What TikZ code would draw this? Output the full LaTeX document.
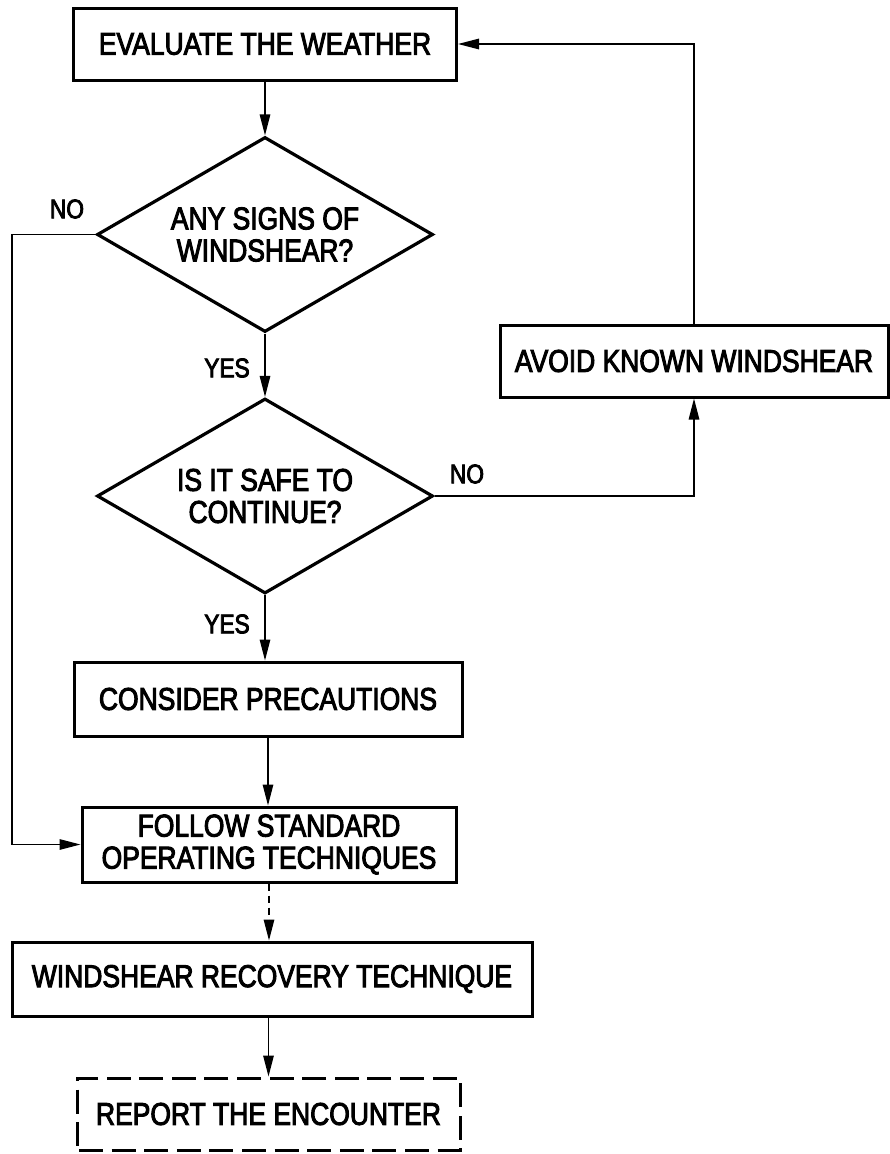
\documentclass[tikz,border=0pt]{standalone}
\usepackage{fontspec}
\setmainfont{Liberation Sans}[FakeStretch=0.84,FakeBold=3]
\usetikzlibrary{shapes.geometric,arrows.meta}
\tikzset{
  box/.style={draw, line width=3pt, inner sep=0pt, align=center,
    font=\fontsize{31.5}{32}\selectfont},
  decision/.style={diamond, draw, line width=3.2pt, inner sep=0pt, aspect=1.72,
    align=center, minimum width=336pt, minimum height=195pt,
    font=\fontsize{31.5}{32}\selectfont},
  conn/.style={line width=1.4pt, -{Triangle[length=21pt,width=10.5pt]}},
  dashconn/.style={conn, dash pattern=on 7pt off 5pt},
  lbl/.style={inner sep=0pt, font=\fontsize{27}{28}\selectfont}
}
\begin{document}
\begin{tikzpicture}[x=1pt,y=-1pt]
\useasboundingbox (0,0) rectangle (890,1154);
% nodes
\node[box, minimum width=383pt, minimum height=72pt] (eval) at (265,44) {EVALUATE THE WEATHER};
\node[decision] (d1) at (265,234.5) {ANY SIGNS OF\\WINDSHEAR?};
\node[decision] (d2) at (265,496) {IS IT SAFE TO\\CONTINUE?};
\node[box, minimum width=388pt, minimum height=72pt] (avoid) at (694,361) {AVOID KNOWN WINDSHEAR};
\node[box, minimum width=388pt, minimum height=74pt] (consider) at (268,699) {CONSIDER PRECAUTIONS};
\node[box, minimum width=374pt, minimum height=75pt] (follow) at (269,844.5) {FOLLOW STANDARD\\OPERATING TECHNIQUES};
\node[box, minimum width=520pt, minimum height=74pt] (wrt) at (272,979) {WINDSHEAR RECOVERY TECHNIQUE};
\node[box, dash pattern=on 24pt off 8.6pt, dash phase=-2pt, minimum width=383pt, minimum height=72pt] (report) at (268.5,1114) {REPORT THE ENCOUNTER};
% labels
\node[lbl] (no1) at (67,209) {NO};
\node[lbl] (yes1) at (227,368) {YES};
\node[lbl] (no2) at (467,474) {NO};
\node[lbl] (yes2) at (227,624) {YES};
% helper coordinate for the left return line
\coordinate (leftx) at (12,235);
% connectors
\draw[conn] (eval) -- (d1);
\draw[conn] (d1.south) -- (d2.north);
\draw[conn] (d2.south) -- (d2.south |- consider.north);
\draw[conn] (consider.south) -- (consider.south |- follow.north);
\draw[dashconn] (follow.south) -- (follow.south |- wrt.north);
\draw[conn] (report.north |- wrt.south) -- (report.north);
\draw[conn] (d1.west) -- (d1.west -| leftx) |- (follow.west);
\draw[conn] (d2.east) -| (avoid.south);
\draw[conn] (avoid.north) |- (eval.east);
\end{tikzpicture}
\end{document}
